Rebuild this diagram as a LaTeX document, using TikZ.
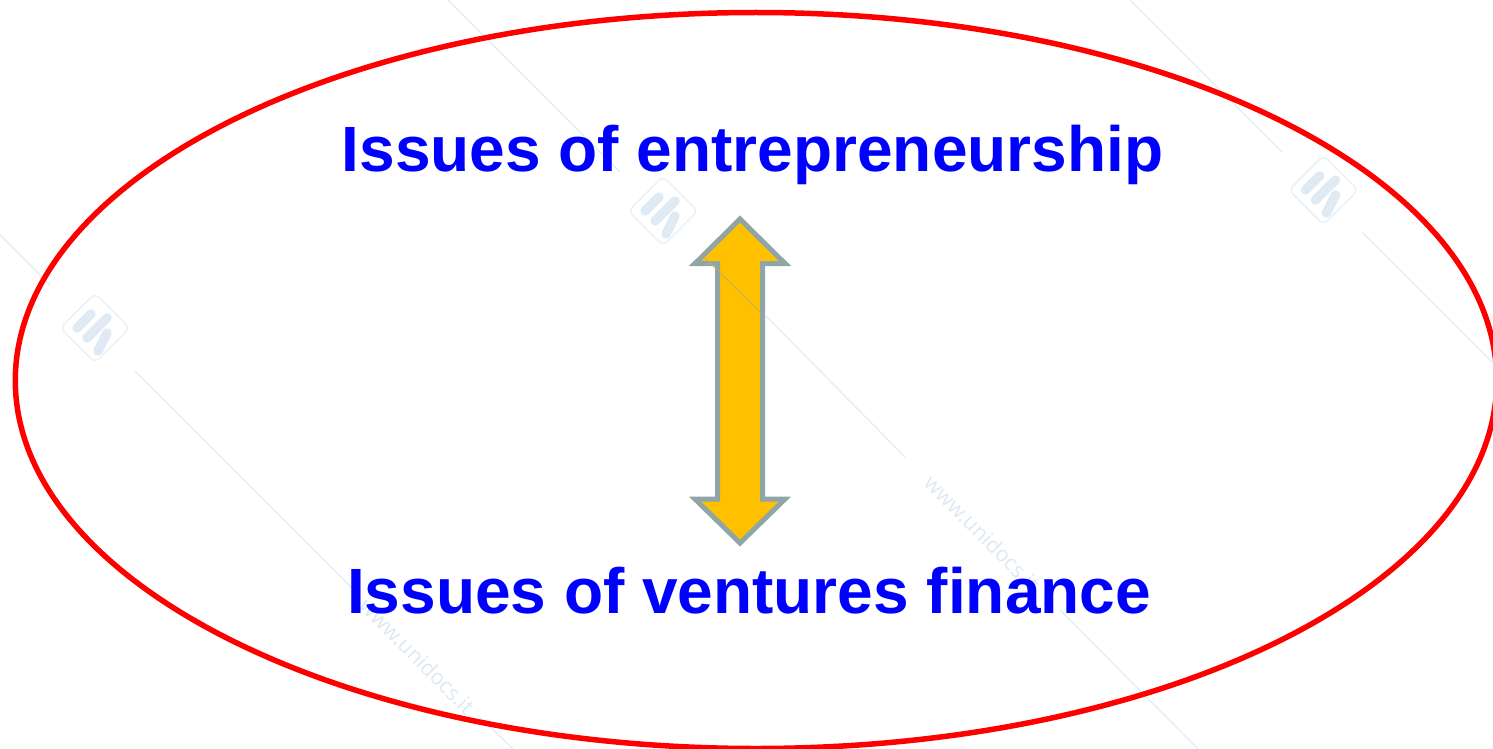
\documentclass[tikz,border=0pt]{standalone}
\usepackage{fontspec}
\setmainfont{Liberation Sans}
\newfontfamily\wmfont{Open Sans}
\definecolor{wmline}{HTML}{E0ECF5}
\definecolor{wmfill}{HTML}{DFEAF4}
\definecolor{wmedge}{HTML}{EAF2F8}
\definecolor{wmtextc}{HTML}{DCE9F4}
\definecolor{arrowfill}{HTML}{FFC000}
\definecolor{arroweg}{HTML}{8FA5A8}
\tikzset{
  wmstroke/.style={draw=wmline,line width=1.2pt},
  wmtext/.style={text=wmtextc,font=\wmfont\fontsize{21.5}{21.5}\selectfont,rotate=-45,inner sep=0pt},
  headline/.style={text=blue,font=\fontsize{64}{64}\selectfont\bfseries,inner sep=0pt,anchor=base},
  ring/.style={draw=red,line width=5.5pt},
  dblarrow/.style={draw=arroweg,fill=arrowfill,line width=5pt,miter limit=10},
  pics/wmlogo/.style={code={
    \draw[wmedge,line width=1.6pt,rounded corners=6pt,rotate=45] (-24.5,-24.5) rectangle (24.5,24.5);
    \draw[wmfill,line width=9.5pt,line cap=round] (-18,0) -- (-4,-14);
    \draw[wmfill,line width=9.5pt,line cap=round] (-8,10) -- (12,-10);
    \draw[wmfill,line width=9.5pt,line cap=round] (3,23) -- (12,5);
  }}
}
\begin{document}
\begin{tikzpicture}[x=1pt,y=-1pt]
\useasboundingbox (0,0) rectangle (1493,749);
% watermark lines
\draw[wmstroke] (448,0) -- (620,172);
\draw[wmstroke] (1130,0) -- (1282,152);
\draw[wmstroke] (1363,233) -- (1493,363);
\draw[wmstroke] (0,235) -- (50,285);
\draw[wmstroke] (135,371) -- (358,594);
\draw[wmstroke] (1060,610) -- (1198,749);
\draw[wmstroke] (480,717) -- (513,749);
\pic at (663,211) {wmlogo};
\pic at (1323.5,190) {wmlogo};
\pic at (95,328) {wmlogo};
\node[wmtext] (wmA) at (982,533) {www.unidocs.it};
\node[wmtext] (wmB) at (417,656) {www.unidocs.it};
% arrow
\draw[dblarrow] (740,219) -- (785,263.5) -- (762.5,263.5) -- (762.5,499) -- (785,499) -- (740,543) -- (695,499) -- (717.5,499) -- (717.5,263.5) -- (695,263.5) -- cycle;
\draw[draw=arroweg!55!arrowfill,line width=0.9pt] (705,258) -- (760,312);
\draw[wmstroke] (766,316) -- (905,457);
% ellipse
\draw[ring] (756,380.5) ellipse [x radius=740.7, y radius=368];
% text
\node[headline] (top) at (752.5,171) {Issues of entrepreneurship};
\node[headline] (bot) at (749,613.5) {Issues of ventures finance};
\end{tikzpicture}
\end{document}
